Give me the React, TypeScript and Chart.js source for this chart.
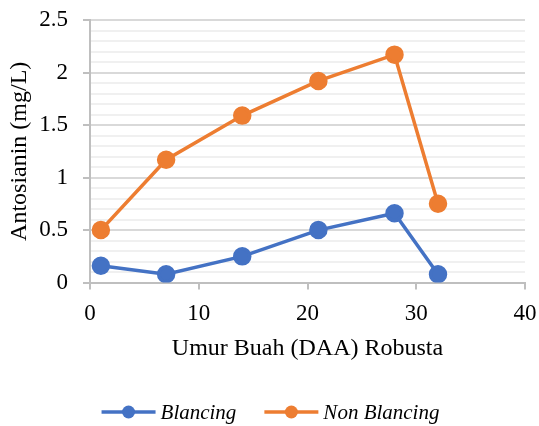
import React, { useEffect, useRef } from "react";
import { Chart, registerables } from "chart.js";

Chart.register(...registerables);

const daysBlancing = [1, 7, 14, 21, 28, 32];
const valuesBlancing = [0.16, 0.08, 0.25, 0.5, 0.66, 0.08];
const daysNonBlancing = [1, 7, 14, 21, 28, 32];
const valuesNonBlancing = [0.5, 1.17, 1.59, 1.92, 2.17, 0.75];
const seriesNames = ["Blancing", "Non Blancing"];
const seriesColors = ["#4472C4", "#ED7D31"];
const xTitle = "Umur Buah (DAA) Robusta";
const yTitle = "Antosianin (mg/L)";

const SERIF = "'Liberation Serif', 'Times New Roman', serif";

const customLegend = {
  id: "customLegend",
  afterDraw(chart: any) {
    const ctx = chart.ctx;
    ctx.save();
    ctx.font = `italic 21px ${SERIF}`;
    ctx.textBaseline = "middle";
    ctx.textAlign = "left";
    const lineW = 54;
    const gapText = 5;
    const gapItems = 28;
    const widths = seriesNames.map((n) => ctx.measureText(n).width);
    const total = widths.reduce((a, w) => a + lineW + gapText + w, 0) + gapItems * (seriesNames.length - 1);
    let x = chart.width / 2 + 1 - total / 2;
    const y = 412;
    seriesNames.forEach((name, i) => {
      ctx.strokeStyle = seriesColors[i];
      ctx.lineWidth = 3.5;
      ctx.beginPath();
      ctx.moveTo(x, y);
      ctx.lineTo(x + lineW, y);
      ctx.stroke();
      ctx.fillStyle = seriesColors[i];
      ctx.beginPath();
      ctx.arc(x + lineW / 2, y, 6.5, 0, Math.PI * 2);
      ctx.fill();
      ctx.fillStyle = "#000";
      ctx.fillText(name, x + lineW + gapText, y + 1);
      x += lineW + gapText + widths[i] + gapItems;
    });
    ctx.restore();
  },
};

export default function App() {
  const ref = useRef<HTMLCanvasElement | null>(null);
  useEffect(() => {
    if (!ref.current) return;
    let chart: any = null;
    let cancelled = false;
    const isMajor = (v: number) => Math.abs(v * 2 - Math.round(v * 2)) < 1e-6;
    const build = () => {
      if (cancelled || !ref.current) return;
      Chart.defaults.font.family = SERIF;
      Chart.defaults.font.size = 23;
      Chart.defaults.color = "#000";
      chart = new Chart(ref.current, {
        type: "line",
        data: {
          datasets: [
            {
              label: seriesNames[0],
              data: daysBlancing.map((x, i) => ({ x, y: valuesBlancing[i] })),
              borderColor: seriesColors[0],
              backgroundColor: seriesColors[0],
              borderWidth: 3.5,
              pointRadius: 7.5,
              pointHoverRadius: 7.5,
              pointStyle: "circle",
            },
            {
              label: seriesNames[1],
              data: daysNonBlancing.map((x, i) => ({ x, y: valuesNonBlancing[i] })),
              borderColor: seriesColors[1],
              backgroundColor: seriesColors[1],
              borderWidth: 3.5,
              pointRadius: 7.5,
              pointHoverRadius: 7.5,
              pointStyle: "circle",
            },
          ],
        },
        options: {
          animation: false,
          responsive: false,
          layout: { padding: { top: 20, right: 14, left: 5, bottom: 63 } },
          scales: {
            x: {
              type: "linear",
              min: 0,
              max: 40,
              border: { color: "#bfbfbf", width: 2 },
              grid: {
                drawOnChartArea: false,
                drawTicks: true,
                tickLength: 7,
                tickColor: "#bfbfbf",
                lineWidth: 2,
              },
              ticks: {
                stepSize: 10,
                color: "#000",
                font: { family: SERIF, size: 23 },
                padding: 11,
              },
              title: {
                display: true,
                text: xTitle,
                color: "#000",
                font: { family: SERIF, size: 24 },
                padding: { top: -5, bottom: 0 },
              },
              afterFit: (s: any) => {
                s.paddingLeft = 0;
                s.paddingRight = 0;
              },
            },
            y: {
              type: "linear",
              min: 0,
              max: 2.5,
              border: { color: "#bfbfbf", width: 2 },
              grid: {
                color: (ctx: any) => (isMajor(ctx.tick.value) ? "#d9d9d9" : "#f0f0f0"),
                lineWidth: 2,
                tickLength: 7,
                tickColor: (ctx: any) => (isMajor(ctx.tick.value) ? "#bfbfbf" : "rgba(0,0,0,0)"),
              },
              ticks: {
                stepSize: 0.1,
                autoSkip: false,
                color: "#000",
                font: { family: SERIF, size: 23 },
                padding: 15,
                callback: (v: any) => {
                  const n = Number(v);
                  if (!isMajor(n)) return "";
                  return String(Math.round(n * 10) / 10);
                },
              },
              title: {
                display: true,
                text: yTitle,
                color: "#000",
                font: { family: SERIF, size: 24 },
                padding: { top: 0, bottom: 0 },
              },
              afterFit: (s: any) => {
                s.width = 85;
                s.paddingTop = 0;
                s.paddingBottom = 0;
              },
            },
          },
          plugins: {
            legend: { display: false },
            tooltip: { enabled: false },
          },
        },
        plugins: [customLegend],
      });
    };
    const fonts: any = (document as any).fonts;
    if (fonts && fonts.load) {
      Promise.all([
        fonts.load(`23px "Liberation Serif"`),
        fonts.load(`italic 21px "Liberation Serif"`),
      ])
        .catch(() => {})
        .then(build);
    } else {
      build();
    }
    return () => {
      cancelled = true;
      if (chart) chart.destroy();
    };
  }, []);
  return (
    <div style={{ position: "fixed", left: 0, top: 0, width: 539, height: 426, background: "#fff" }}>
      <canvas ref={ref} width={539} height={426} style={{ width: 539, height: 426 }} />
    </div>
  );
}
